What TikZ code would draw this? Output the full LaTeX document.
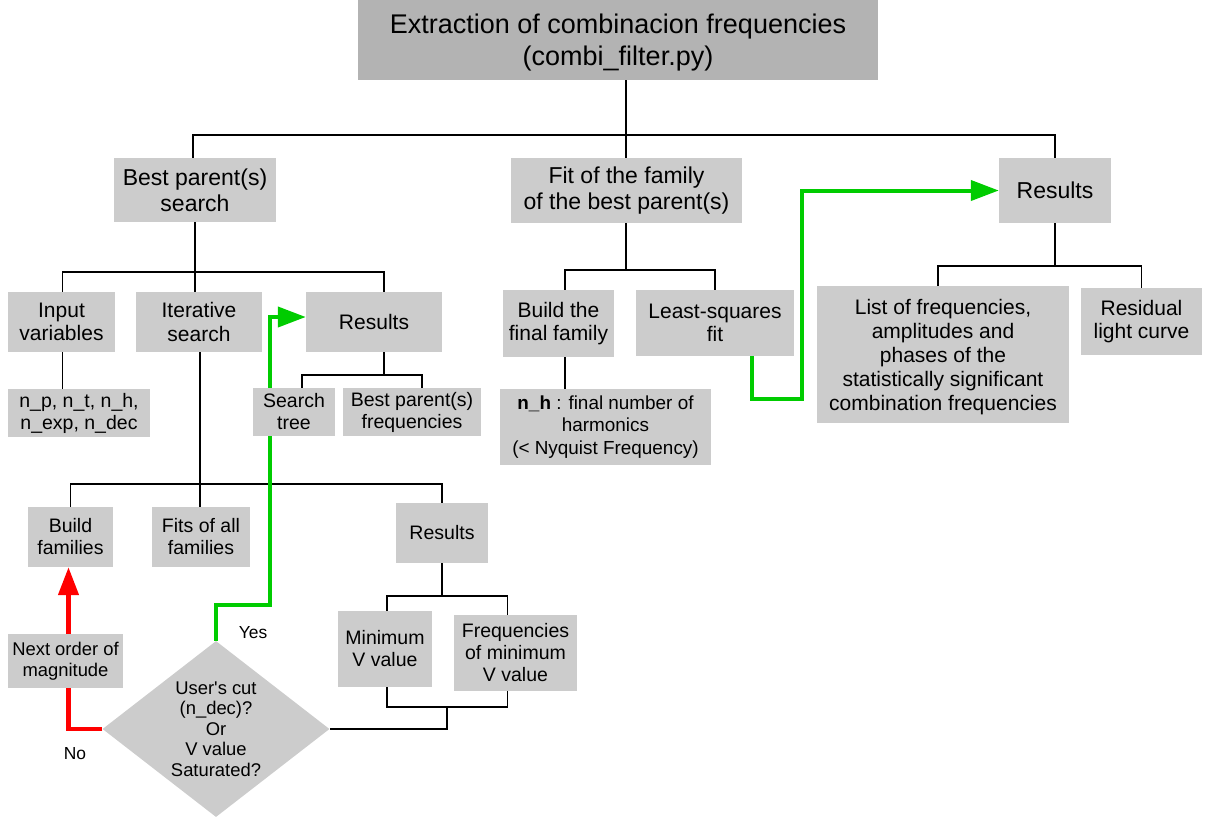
\documentclass[tikz,border=0pt]{standalone}
\usepackage{fontspec}
\setmainfont{Liberation Sans}
\usetikzlibrary{arrows.meta,shapes.geometric,calc,backgrounds}
\definecolor{boxgray}{HTML}{CCCCCC}
\definecolor{titlegray}{HTML}{B3B3B3}
\definecolor{flowgreen}{HTML}{00CC00}
\definecolor{flowred}{HTML}{FF0000}
\begin{document}
\begin{tikzpicture}[x=1pt,y=-1pt,
  box/.style={fill=boxgray, draw=none, inner sep=0pt, align=center, text=black},
  fA/.style={font=\fontsize{27}{32}\selectfont},
  fB/.style={font=\fontsize{23}{26}\selectfont},
  fC/.style={font=\fontsize{21}{23.5}\selectfont},
  fL/.style={font=\fontsize{21}{24}\selectfont},
  fD/.style={font=\fontsize{19.5}{22}\selectfont},
  fN/.style={font=\fontsize{18.9}{22.5}\selectfont},
  fE/.style={font=\fontsize{18.4}{20.6}\selectfont},
  fF/.style={font=\fontsize{17.4}{20}\selectfont},
  conn/.style={line width=1.5pt, black},
  greenflow/.style={line width=4pt, flowgreen, -{Triangle[length=28pt,width=20pt]}},
  redflow/.style={line width=4.5pt, flowred, -{Triangle[length=28pt,width=20pt]}}
]
\useasboundingbox (0,0) rectangle (1210,820);

% top level
\node[box, fill=titlegray, minimum width=520pt, minimum height=80pt] (title) at (618,40) {};
\node[align=center, inner sep=0pt, fA] (titletext) at (618,43) {Extraction of combinacion frequencies\\(combi\_filter.py)};

% level 2
\node[box, minimum width=162pt, minimum height=64pt, fB] (bps) at (195,190) {Best parent(s)\\search};
\node[box, minimum width=231pt, minimum height=65pt, fB] (fit) at (626.5,190.5) {Fit of the family\\of the best parent(s)};
\node[box, minimum width=112pt, minimum height=65pt, fB] (res1) at (1055,190.5) {Results};

% left branch
\node[box, minimum width=107pt, minimum height=60pt, fC] (inp) at (61.5,322) {Input\\variables};
\node[box, minimum width=126pt, minimum height=60pt, fC] (iter) at (199,322) {Iterative\\search};
\node[box, minimum width=136pt, minimum height=60pt, fC] (res2) at (374,322) {Results};
\node[box, minimum width=142pt, minimum height=48pt, fD] (np) at (79,413) {n\_p, n\_t, n\_h,\\ n\_exp, n\_dec};
\node[box, minimum width=82pt, minimum height=48pt, fD] (stree) at (294,412) {Search\\tree};
\node[box, minimum width=138pt, minimum height=48pt, fD] (bpf) at (412,412) {Best parent(s)\\frequencies};
\node[box, minimum width=85pt, minimum height=60pt, fD] (bfam) at (70.5,537) {Build\\families};
\node[box, minimum width=98pt, minimum height=60pt, fD] (fits) at (201,537) {Fits of all\\families};
\node[box, minimum width=92pt, minimum height=60pt, fD] (res3) at (442,533) {Results};
\node[box, minimum width=94pt, minimum height=76pt, fD] (minv) at (385,649) {Minimum\\V value};
\node[box, minimum width=123pt, minimum height=76pt, fD] (fmin) at (515.5,653) {Frequencies\\of minimum\\V value};
\node[box, shape=diamond, minimum width=227pt, minimum height=176pt] (dec) at (216,729) {};
\node[align=center, inner sep=0pt, fE] (dectext) at (216,729) {User\textquotesingle s cut\\(n\_dec)?\\Or\\V value\\Saturated?};
\node[box, minimum width=115pt, minimum height=54pt, fE] (nextord) at (65.5,661) {Next order of\\magnitude};
\node[inner sep=0pt, fF] (yes) at (253,633) {Yes};
\node[inner sep=0pt, fF] (no) at (75,754) {No};

% middle branch
\node[box, minimum width=111pt, minimum height=67pt, fC] (bfin) at (558.5,323.5) {Build the\\final family};
\node[box, minimum width=158pt, minimum height=66pt, fC] (lsq) at (715,323) {Least-squares\\fit};
\node[box, minimum width=211pt, minimum height=76pt, fN] (nh) at (605.5,427) {\textbf{n\_h} : final number of\\harmonics\\(< Nyquist Frequency)};

% right branch
\node[box, minimum width=252pt, minimum height=137pt] (list) at (943,354.5) {};
\node[align=center, inner sep=0pt, fL] (listtext) at (943,357) {List of frequencies,\\amplitudes and\\phases of the\\statistically significant\\combination frequencies};
\node[box, minimum width=121pt, minimum height=67pt, fC] (resid) at (1141.5,321.5) {Residual\\light curve};

\begin{scope}[on background layer]
  % top tree
  \coordinate (j1) at (626,135);
  \draw[conn] (title.south -| j1) -- (fit.north -| j1);
  \draw[conn] ($(bps.north)+(-2,0)$) |- (j1) -| (res1.north);
  % best parent search tree
  \coordinate (j2) at (195,272);
  \draw[conn] (bps.south) -- (bps.south |- iter.north);
  \draw[conn] ($(inp.north)+(1,0)$) |- (j2) -| ($(res2.north)+(10,0)$);
  \draw[conn] ($(inp.south)+(1,0)$) -- ($(inp.south |- np.north)+(1,0)$);
  % results of search
  \coordinate (j3) at (384,375);
  \draw[conn] ($(res2.south)+(10,0)$) -- (j3);
  \draw[conn] ($(stree.north)+(8,0)$) |- (j3) -| ($(bpf.north)+(10,0)$);
  % iterative search tree
  \coordinate (j4) at (200,484);
  \draw[conn] (iter.south -| j4) -- (fits.north -| j4);
  \draw[conn] (bfam.north) |- (j4) -| (res3.north);
  % lower results
  \coordinate (j5) at (442,596);
  \draw[conn] (res3.south) -- (j5);
  \draw[conn] ($(minv.north)+(2,0)$) |- (j5) -| ($(fmin.north)+(-8,0)$);
  \coordinate (j6) at (447,707);
  \draw[conn] ($(minv.south)+(2,0)$) |- (j6) -| ($(fmin.south)+(-8,0)$);
  \draw[conn] (j6) |- (dec.east);
  % decision flows
  \coordinate (g1) at (270,605);
  \draw[greenflow] (dec.north) |- (g1) |- ($(res2.west)+(0,-5)$);
  \draw[redflow] (dec.west) -| ($(bfam.south)+(-2,0)$);
  % fit tree
  \coordinate (j7) at (626,270);
  \draw[conn] (fit.south -| j7) -- (j7);
  \draw[conn] ($(bfin.north)+(6.5,0)$) |- (j7) -| (lsq.north);
  \coordinate (b1) at ($(bfin.south)+(6.5,0)$);
  \draw[conn] (b1) -- (b1 |- nh.north);
  \coordinate (g2) at (802,399);
  \draw[greenflow] ($(lsq.south)+(37,0)$) |- (g2) |- (res1.west);
  % results tree
  \coordinate (j8) at (1055,266);
  \draw[conn] (res1.south) -- (j8);
  \draw[conn] ($(list.north)+(-5,0)$) |- (j8) -| (resid.north);
\end{scope}
\end{tikzpicture}
\end{document}
